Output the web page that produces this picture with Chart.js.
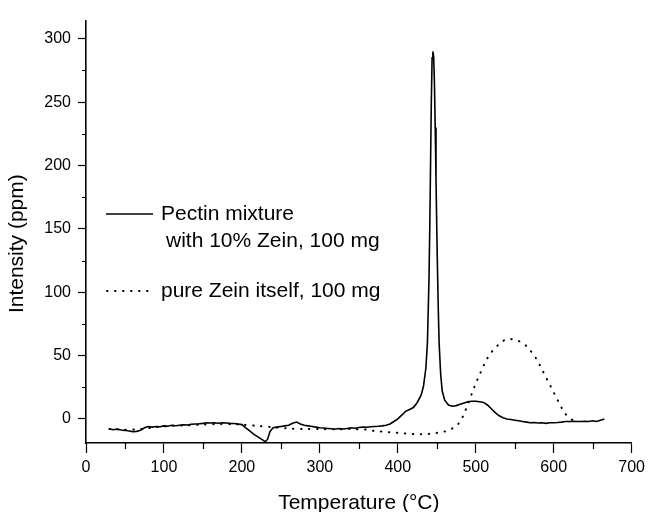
<!DOCTYPE html>
<html>
<head>
<meta charset="utf-8">
<title>Intensity vs Temperature</title>
<script src="https://cdn.jsdelivr.net/npm/chart.js@4.4.1/dist/chart.umd.min.js"></script>
<style>
  body { margin: 0; background: #fff; }
  canvas { display: block; }
</style>
</head>
<body>
<canvas id="tgChart" width="650" height="512"></canvas>
<script>
// axis ticks
const xTicks = [0, 100, 200, 300, 400, 500, 600, 700];
const xMinor = [50, 150, 250, 350, 450, 550, 650];
const yTicks = [0, 50, 100, 150, 200, 250, 300];
const yMinor = [25, 75, 125, 175, 225, 275];

// Pectin mixture with 10% Zein (solid line)
const pectinTemp = [30, 35, 40, 45, 50, 55, 60, 65, 70, 75, 80, 85, 90, 95, 100, 105, 110, 115, 120, 125,
  130, 135, 140, 145, 150, 155, 160, 165, 170, 175, 180, 185, 190, 195, 200, 205, 210, 215, 220, 225,
  230, 233, 236, 240, 245, 250, 255, 260, 265, 270, 275, 280, 285, 290, 295, 300, 305, 310, 315, 320,
  325, 330, 335, 340, 345, 350, 355, 360, 365, 370, 375, 380, 385, 390, 395, 400, 405, 410, 415, 420,
  425, 430, 433, 436, 438, 440, 441, 442, 443, 444, 445, 446, 447, 448, 449, 450, 451, 452, 453, 455,
  457, 460, 465, 470, 475, 480, 485, 490, 495, 500, 505, 510, 515, 520, 525, 530, 535, 540, 545, 550,
  555, 560, 565, 570, 575, 580, 585, 590, 595, 600, 605, 610, 615, 620, 625, 630, 635, 640, 645, 650,
  655, 660, 665];
const pectinVal = [-8, -8.5, -8, -8.8, -9, -9.5, -10, -9.8, -9, -7, -6, -6.5, -6, -6.2, -5.5, -5.8, -5, -5.4, -5, -4.6,
  -4.8, -4.2, -4, -3.8, -3.5, -3, -3.2, -3, -3.4, -3, -3.2, -3.5, -3.6, -4, -4.5, -7, -9.5, -12, -14, -16,
  -18, -16, -10, -7, -6.5, -6, -5.5, -5, -3.5, -2.5, -4, -5, -5.5, -6, -6.5, -7, -7.2, -7.5, -7.8, -8,
  -7.6, -8, -7.5, -7, -7.3, -6.8, -6.5, -6.6, -6.2, -6, -5.8, -5.5, -5, -4, -2, 0, 3, 6, 7.5, 9,
  13, 19, 26, 40, 60, 110, 150, 200, 250, 285, 290, 286, 265, 230, 190, 150, 115, 85, 60, 35,
  22, 15, 11, 10, 10.5, 11.5, 12.5, 13.5, 14, 14, 13.5, 13, 11, 8, 5, 2.5, 1, 0, -0.5, -1,
  -1.5, -2, -2.5, -3, -2.8, -3.2, -3, -3.5, -3, -3, -2.8, -2.5, -2, -2, -1.8, -2, -2, -1.8, -2, -1.5,
  -2, -1, 0];

// pure Zein itself (dotted line)
const zeinTemp = [30, 50, 70, 90, 110, 130, 150, 170, 190, 200, 220, 240, 260, 280, 300, 320, 340, 360, 370, 380,
  390, 400, 410, 420, 430, 440, 450, 460, 465, 470, 475, 480, 485, 490, 495, 500, 505, 510, 515, 520,
  525, 530, 535, 540, 545, 550, 555, 560, 565, 570, 575, 580, 585, 590, 595, 600, 605, 610, 615, 620,
  625, 630];
const zeinVal = [-8, -8.5, -8, -6.5, -5.5, -5, -4.5, -4, -4.2, -4.5, -5.5, -6.5, -7.5, -8, -8, -8.2, -8, -8.5, -9.5, -10,
  -10.5, -11, -11.5, -12, -12, -11.8, -11, -10, -9, -7.5, -5.5, -2, 4, 12, 20, 28, 35, 42, 48, 52.5,
  56, 59, 61.5, 63, 63, 62.5, 61.5, 60, 57.5, 54, 50, 45, 39, 33, 27, 21, 15, 9, 4, 1,
  -1, -1.5];

const pectinLabel = ['Pectin mixture', 'with 10% Zein, 100 mg'];
const zeinLabel = ['pure Zein itself, 100 mg'];

const FONT = "'Liberation Sans', Arial, Helvetica, sans-serif";

// minor tick marks + in-plot legend
const extras = {
  id: 'extras',
  afterDraw(chart) {
    const c = chart.ctx;
    const xs = chart.scales.x, ys = chart.scales.y;
    c.save();
    c.strokeStyle = '#000';
    c.lineWidth = 1.2;
    c.beginPath();
    xMinor.forEach(v => {
      const px = Math.round(xs.getPixelForValue(v)) + 0.5;
      c.moveTo(px, xs.top);
      c.lineTo(px, xs.top + 6);
    });
    yMinor.forEach(v => {
      const py = Math.round(ys.getPixelForValue(v)) + 0.5;
      c.moveTo(ys.right, py);
      c.lineTo(ys.right - 4, py);
    });
    c.stroke();

    // legend
    const ds = chart.data.datasets;
    c.fillStyle = '#000';
    c.font = '21px ' + FONT;
    c.textBaseline = 'middle';
    c.textAlign = 'left';
    c.lineWidth = ds[0].borderWidth;
    c.beginPath();
    c.moveTo(106, 214);
    c.lineTo(153, 214);
    c.stroke();
    c.fillText(ds[0].label[0], 161, 214);
    c.fillText(ds[0].label[1], 166, 241);

    c.lineWidth = ds[1].borderWidth;
    c.lineCap = 'round';
    c.setLineDash(ds[1].borderDash);
    c.beginPath();
    c.moveTo(107, 291);
    c.lineTo(153, 291);
    c.stroke();
    c.setLineDash([]);
    c.fillText(ds[1].label[0], 161, 291);
    c.restore();
  }
};

const ctx = document.getElementById('tgChart').getContext('2d');
const tgChart = new Chart(ctx, {
  type: 'line',
  data: {
    datasets: [{
      label: pectinLabel,
      data: pectinTemp.map((t, i) => ({ x: t, y: pectinVal[i] })),
      borderColor: '#000',
      borderWidth: 1.6,
      pointRadius: 0,
      tension: 0
    }, {
      label: zeinLabel,
      data: zeinTemp.map((t, i) => ({ x: t, y: zeinVal[i] })),
      borderColor: '#000',
      borderWidth: 2,
      borderDash: [0.5, 7.5],
      borderCapStyle: 'round',
      pointRadius: 0,
      tension: 0.3
    }]
  },
  options: {
    responsive: false,
    animation: false,
    events: [],
    layout: { padding: { left: 0, top: 21, right: 16, bottom: 0 } },
    plugins: {
      legend: { display: false },
      tooltip: { enabled: false }
    },
    scales: {
      x: {
        type: 'linear',
        min: 0,
        max: 700,
        afterBuildTicks: s => { s.ticks = xTicks.map(v => ({ value: v })); },
        afterFit: s => { s.height = 69; },
        border: { color: '#000', width: 1.6 },
        grid: { drawOnChartArea: false, tickLength: 10, tickColor: '#000', tickWidth: 1.2 },
        ticks: { color: '#000', padding: 5, maxRotation: 0, font: { family: FONT, size: 16 } },
        title: {
          display: true,
          text: 'Temperature (°C)',
          color: '#000',
          font: { family: FONT, size: 21, lineHeight: 1 },
          padding: { top: 0, bottom: -2 }
        }
      },
      y: {
        min: -19,
        max: 314,
        afterBuildTicks: s => { s.ticks = yTicks.map(v => ({ value: v })); },
        afterFit: s => { s.width = 86; },
        border: { color: '#000', width: 1.6 },
        grid: { drawOnChartArea: false, tickLength: 8, tickColor: '#000', tickWidth: 1.2 },
        ticks: { color: '#000', padding: 7, font: { family: FONT, size: 16 } },
        title: {
          display: true,
          text: 'Intensity (ppm)    ',
          color: '#000',
          font: { family: FONT, size: 21, lineHeight: 1.2 },
          padding: { top: 5, bottom: 0 }
        }
      }
    }
  },
  plugins: [extras]
});
</script>
</body>
</html>
